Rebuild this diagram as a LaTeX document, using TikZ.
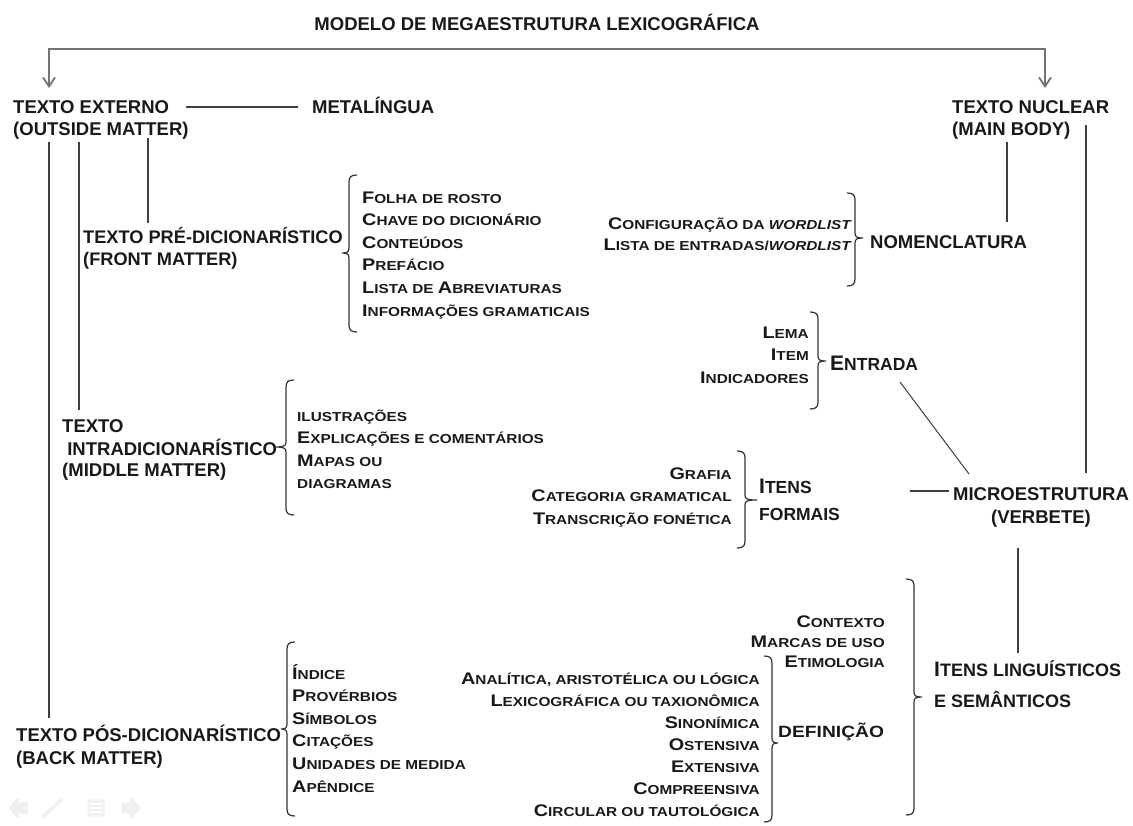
\documentclass[tikz,border=0pt]{standalone}
\usepackage{fontspec}
\setmainfont{Liberation Sans}
\newfontfamily\scf{Liberation Sans}[FakeStretch=1.18]
\usetikzlibrary{arrows.meta}
\newcommand\Bg[1]{{\fontsize{16.8}{16.8}\selectfont #1}}
\newcommand\Bb[1]{{\fontsize{21}{21}\selectfont #1}}
\newcommand\TabL[2]{\begin{tabular}[t]{@{}#1@{}}#2\end{tabular}}
% left brace: x, top, bottom, tip x, tip y
\newcommand\BrL[5]{\draw[brc] ({#1+8},#2) .. controls ({#1+2},#2) and (#1,{#2+2}) .. (#1,{#2+7}) -- (#1,{#5-5}) .. controls (#1,{#5-1}) and ({#1-2},#5) .. (#4,#5) .. controls ({#1-2},#5) and (#1,{#5+1}) .. (#1,{#5+5}) -- (#1,{#3-7}) .. controls (#1,{#3-2}) and ({#1+2},#3) .. ({#1+8},#3);}
\newcommand\BrR[5]{\draw[brc] ({#1-8},#2) .. controls ({#1-2},#2) and (#1,{#2+2}) .. (#1,{#2+7}) -- (#1,{#5-5}) .. controls (#1,{#5-1}) and ({#1+2},#5) .. (#4,#5) .. controls ({#1+2},#5) and (#1,{#5+1}) .. (#1,{#5+5}) -- (#1,{#3-7}) .. controls (#1,{#3-2}) and ({#1-2},#3) .. ({#1-8},#3);}
\begin{document}
\begin{tikzpicture}[x=1pt,y=-1pt,
  main/.style={inner sep=0pt,text=black!90,font=\bfseries\fontsize{18.5}{22}\selectfont},
  grpb/.style={inner sep=0pt,text=black!90,font=\bfseries\fontsize{17.5}{27}\selectfont},
  itm/.style={inner sep=0pt,text=black!90,font=\scf\bfseries\fontsize{13}{22.6}\selectfont},
  ln/.style={draw=black!75,line width=1.3pt},
  topc/.style={draw=black!55,line width=1.8pt},
  brc/.style={draw=black!80,line width=1.2pt},
  icon/.style={fill=black!6,draw=black!8,line width=0.6pt}]
\useasboundingbox (0,0) rectangle (1133,825);
\fill[white] (0,0) rectangle (1133,825);

% ---- main labels
\node[main,anchor=base] (title) at (537,30.6) {MODELO DE MEGAESTRUTURA LEXICOGRÁFICA};
\node[main,anchor=base west] (ext) at (13,113.6) {\TabL{l}{TEXTO EXTERNO\\(OUTSIDE MATTER)}};
\node[main,anchor=base west] (meta) at (312,113.6) {METALÍNGUA};
\node[main,anchor=base west] (nuc) at (952,113.6) {\TabL{l}{TEXTO NUCLEAR\\(MAIN BODY)}};
\node[main,anchor=base west,font=\bfseries\fontsize{18.2}{21.5}\selectfont] (pre) at (83,243.6) {\TabL{l}{TEXTO PRÉ-DICIONARÍSTICO\\(FRONT MATTER)}};
\node[main,anchor=base west,font=\bfseries\fontsize{18.5}{21.5}\selectfont] (intra) at (62,432.6) {\TabL{l}{TEXTO\\\ INTRADICIONARÍSTICO\\(MIDDLE MATTER)}};
\node[main,anchor=base west,font=\bfseries\fontsize{18.5}{23}\selectfont] (pos) at (16,741.6) {\TabL{l}{TEXTO PÓS-DICIONARÍSTICO\\(BACK MATTER)}};
\node[main,anchor=base west] (nom) at (870,248.6) {NOMENCLATURA};
\node[main,anchor=base,font=\bfseries\fontsize{18.5}{23}\selectfont] (micro) at (1041,500.6) {\TabL{c}{MICROESTRUTURA\\(VERBETE)}};

% ---- group B labels
\node[grpb,anchor=base west] (ent) at (830,370.5) {\Bb{E}NTRADA};
\node[grpb,anchor=base west] (itf) at (759,493.5) {\TabL{l}{\Bb{I}TENS\\FORMAIS}};
\node[grpb,anchor=base west,font=\bfseries\fontsize{18}{31}\selectfont] (ils) at (934,676.5) {\TabL{l}{\Bb{I}TENS LINGUÍSTICOS\\E SEMÂNTICOS}};
\node[itm,anchor=base west,font=\scf\bfseries\fontsize{16.3}{20}\selectfont] (def) at (778,737) {DEFINIÇÃO};

% ---- item lists
\node[itm,anchor=base west] (fmitems) at (362,203) {\TabL{l}{\Bg{F}OLHA DE ROSTO\\\Bg{C}HAVE DO DICIONÁRIO\\\Bg{C}ONTEÚDOS\\\Bg{P}REFÁCIO\\\Bg{L}ISTA DE \Bg{A}BREVIATURAS\\\Bg{I}NFORMAÇÕES GRAMATICAIS}};
\node[itm,anchor=base west,font=\scf\bfseries\fontsize{13}{22.4}\selectfont] (mmitems) at (297,421.5) {\TabL{l}{ILUSTRAÇÕES\\\Bg{E}XPLICAÇÕES E COMENTÁRIOS\\\Bg{M}APAS OU\\DIAGRAMAS}};
\node[itm,anchor=base west] (bmitems) at (292,679) {\TabL{l}{\Bg{Í}NDICE\\\Bg{P}ROVÉRBIOS\\\Bg{S}ÍMBOLOS\\\Bg{C}ITAÇÕES\\\Bg{U}NIDADES DE MEDIDA\\\Bg{A}PÊNDICE}};
\node[itm,anchor=base east,font=\scf\bfseries\fontsize{13}{21.5}\selectfont] (nomitems) at (852,229) {\TabL{r}{\Bg{C}ONFIGURAÇÃO DA \textit{WORDLIST}\\\Bg{L}ISTA DE ENTRADAS/\textit{WORDLIST}}};
\node[itm,anchor=base east,font=\scf\bfseries\fontsize{13}{22.5}\selectfont] (entitems) at (809,338) {\TabL{r}{\Bg{L}EMA\\\Bg{I}TEM\\\Bg{I}NDICADORES}};
\node[itm,anchor=base east,font=\scf\bfseries\fontsize{13}{22.5}\selectfont] (fitems) at (732,479) {\TabL{r}{\Bg{G}RAFIA\\\Bg{C}ATEGORIA GRAMATICAL\\\Bg{T}RANSCRIÇÃO FONÉTICA}};
\node[itm,anchor=base east,font=\scf\bfseries\fontsize{13}{20}\selectfont] (citems) at (885,627) {\TabL{r}{\Bg{C}ONTEXTO\\\Bg{M}ARCAS DE USO\\\Bg{E}TIMOLOGIA}};
\node[itm,anchor=base east,font=\scf\bfseries\fontsize{13}{22}\selectfont] (ditems) at (760,684) {\TabL{r}{\Bg{A}NALÍTICA, ARISTOTÉLICA OU LÓGICA\\\Bg{L}EXICOGRÁFICA OU TAXIONÔMICA\\\Bg{S}INONÍMICA\\\Bg{O}STENSIVA\\\Bg{E}XTENSIVA\\\Bg{C}OMPREENSIVA\\\Bg{C}IRCULAR OU TAUTOLÓGICA}};

% ---- braces
\BrL{349}{175}{332}{342}{253}
\BrL{286}{380}{515}{274}{447}
\BrL{287}{642}{816}{281}{729}
\BrR{855}{193}{286}{863}{238}
\BrR{818}{312}{409}{826}{361}
\BrR{745}{451}{548}{757}{500}
\BrR{772}{656}{822}{778}{743}
\BrR{914}{579}{815}{922}{697}

% ---- connector end points
\coordinate (aL) at (49,88);
\coordinate (cL) at (49,49);
\coordinate (cR) at (1045,49);
\coordinate (aR) at (1045,88);
\coordinate (m1) at (186,107);
\coordinate (m2) at (298,107);
\coordinate (v1a) at (49,142);
\coordinate (v1b) at (49,718);
\coordinate (v2a) at (79,142);
\coordinate (v2b) at (79,410);
\coordinate (v3a) at (148,138);
\coordinate (v3b) at (148,223);
\coordinate (n1a) at (1007,142);
\coordinate (n1b) at (1007,222);
\coordinate (n2a) at (1086,125);
\coordinate (n2b) at (1086,473);
\coordinate (e1) at (900,382);
\coordinate (e2) at (969,474);
\coordinate (f1) at (910,491);
\coordinate (f2) at (949,491);
\coordinate (u1) at (1018,548);
\coordinate (u2) at (1018,653);

% ---- connectors
\draw[topc,{Straight Barb[length=9pt,width=12pt]}-{Straight Barb[length=9pt,width=12pt]}] (aL) -- (cL) -- (cR) -- (aR);
\draw[ln] (m1) -- (m2);
\draw[ln] (v1a) -- (v1b);
\draw[ln] (v2a) -- (v2b);
\draw[ln] (v3a) -- (v3b);
\draw[ln] (n1a) -- (n1b);
\draw[ln] (n2a) -- (n2b);
\draw[ln,line width=1pt] (e1) -- (e2);
\draw[ln] (f1) -- (f2);
\draw[ln] (u1) -- (u2);

% ---- slide navigation icons (faint)
\filldraw[icon] (27,803) -- (18,803) -- (18,798) -- (10,808) -- (18,818) -- (18,813) -- (27,813) -- cycle;
\draw[draw=black!6,line width=3.5pt,line cap=round] (43,817) -- (62,799);
\filldraw[icon,rounded corners=1pt] (88,800) rectangle (104,816);
\draw[white,line width=1.4pt] (90,804) -- (102,804) (90,808) -- (102,808) (90,812) -- (102,812);
\filldraw[icon] (122,803) -- (131,803) -- (131,798) -- (140,808) -- (131,818) -- (131,813) -- (122,813) -- cycle;
\end{tikzpicture}
\end{document}
